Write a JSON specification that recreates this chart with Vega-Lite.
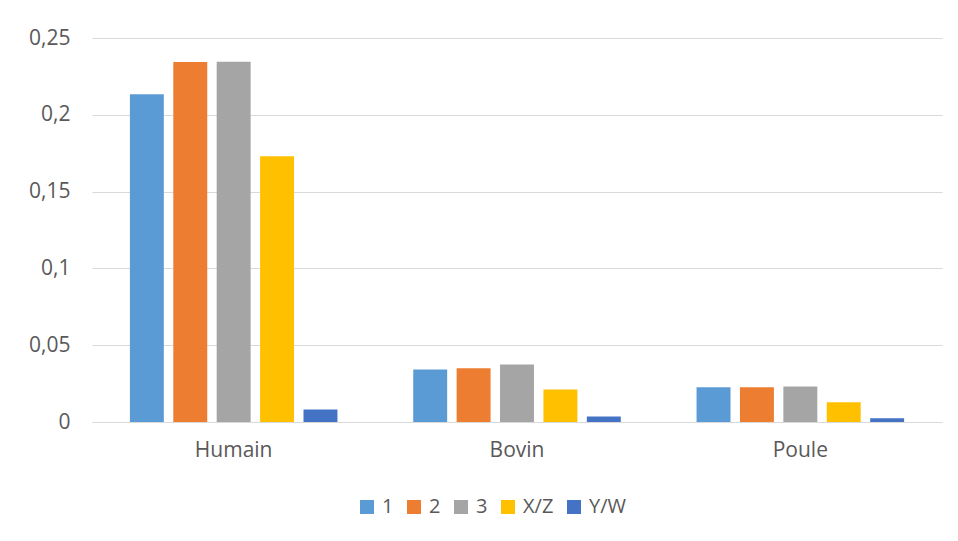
{
  "$schema": "https://vega.github.io/schema/vega-lite/v6.json",
  "width": 850,
  "height": 384,
  "autosize": {"type": "none"},
  "padding": {"left": 92, "top": 38, "right": 16, "bottom": 119},
  "background": "white",
  "config": {
    "view": {"stroke": null},
    "font": "Open Sans",
    "axis": {"labelFont": "Open Sans", "labelColor": "#595959", "labelFontSize": 21},
    "legend": {"labelFont": "Open Sans", "labelColor": "#595959", "labelFontSize": 20}
  },
  "data": {
    "values": [
      {"animal": "Humain", "serie": "1", "valeur": 0.2134},
      {"animal": "Humain", "serie": "2", "valeur": 0.2343},
      {"animal": "Humain", "serie": "3", "valeur": 0.2345},
      {"animal": "Humain", "serie": "X/Z", "valeur": 0.173},
      {"animal": "Humain", "serie": "Y/W", "valeur": 0.0081},
      {"animal": "Bovin", "serie": "1", "valeur": 0.0342},
      {"animal": "Bovin", "serie": "2", "valeur": 0.035},
      {"animal": "Bovin", "serie": "3", "valeur": 0.0374},
      {"animal": "Bovin", "serie": "X/Z", "valeur": 0.0211},
      {"animal": "Bovin", "serie": "Y/W", "valeur": 0.0035},
      {"animal": "Poule", "serie": "1", "valeur": 0.0226},
      {"animal": "Poule", "serie": "2", "valeur": 0.0226},
      {"animal": "Poule", "serie": "3", "valeur": 0.0231},
      {"animal": "Poule", "serie": "X/Z", "valeur": 0.0128},
      {"animal": "Poule", "serie": "Y/W", "valeur": 0.0024}
    ]
  },
  "mark": {"type": "bar"},
  "encoding": {
    "x": {
      "field": "animal",
      "type": "nominal",
      "sort": ["Humain", "Bovin", "Poule"],
      "scale": {"paddingInner": 0, "paddingOuter": 0},
      "axis": {
        "title": null,
        "labelAngle": 0,
        "ticks": false,
        "domain": true,
        "domainColor": "#d9d9d9",
        "domainWidth": 1,
        "labelPadding": 17
      }
    },
    "xOffset": {
      "field": "serie",
      "type": "nominal",
      "sort": ["1", "2", "3", "X/Z", "Y/W"],
      "scale": {"paddingInner": 0.218, "paddingOuter": 0.873}
    },
    "y": {
      "field": "valeur",
      "type": "quantitative",
      "scale": {"domain": [0, 0.25], "nice": false},
      "axis": {
        "title": null,
        "values": [0, 0.05, 0.1, 0.15, 0.2, 0.25],
        "labelExpr": "replace(format(datum.value, ''), '.', ',')",
        "domain": false,
        "ticks": false,
        "gridColor": "#d9d9d9",
        "gridWidth": 1,
        "labelPadding": 22
      }
    },
    "color": {
      "field": "serie",
      "type": "nominal",
      "sort": ["1", "2", "3", "X/Z", "Y/W"],
      "scale": {
        "domain": ["1", "2", "3", "X/Z", "Y/W"],
        "range": ["#5B9BD5", "#ED7D31", "#A5A5A5", "#FFC000", "#4472C4"]
      },
      "legend": {
        "title": null,
        "orient": "none",
        "legendX": 265,
        "legendY": 459,
        "direction": "horizontal",
        "symbolType": "square",
        "symbolSize": 196,
        "symbolStrokeWidth": 0,
        "columnPadding": 10,
        "labelOffset": 5
      }
    }
  }
}
